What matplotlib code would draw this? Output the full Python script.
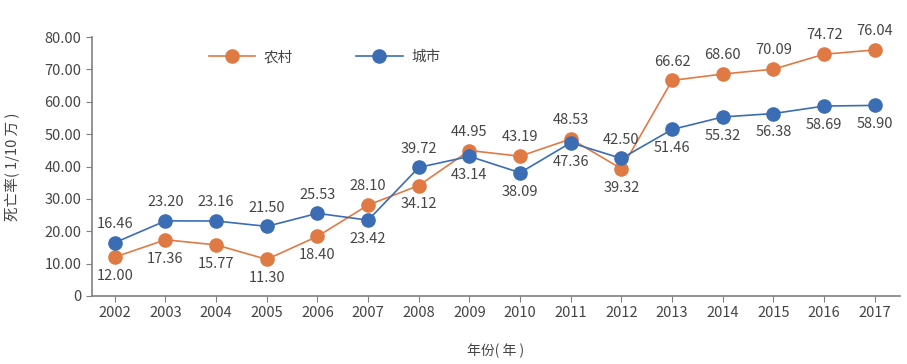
import matplotlib
matplotlib.use("Agg")
import matplotlib.pyplot as plt

plt.rcParams['font.family'] = ['Noto Sans CJK SC', 'DejaVu Sans']

years = [2002, 2003, 2004, 2005, 2006, 2007, 2008, 2009, 2010, 2011, 2012, 2013, 2014, 2015, 2016, 2017]
rural = [12.00, 17.36, 15.77, 11.30, 18.40, 28.10, 34.12, 44.95, 43.19, 48.53, 39.32, 66.62, 68.60, 70.09, 74.72, 76.04]
urban = [16.46, 23.20, 23.16, 21.50, 25.53, 23.42, 39.72, 43.14, 38.09, 47.36, 42.50, 51.46, 55.32, 56.38, 58.69, 58.90]
# label placement for rural: True = above
rural_above = [False, False, False, False, False, True, False, True, True, True, False, True, True, True, True, True]

c_rural = '#E07A45'
c_urban = '#3B6DB4'
tcol = '#454545'

fig = plt.figure(figsize=(9.07, 3.64), dpi=100)
ax = fig.add_axes([0.1014, 0.187, 0.891, 0.711])

ax.plot(years, rural, color=c_rural, lw=1.2, marker='o', ms=9.5, label='农村', zorder=3)
ax.plot(years, urban, color=c_urban, lw=1.2, marker='o', ms=9.5, label='城市', zorder=3)

for x, r, u, ra in zip(years, rural, urban, rural_above):
    off = 8.5
    ax.annotate(f'{r:.2f}', (x, r), xytext=(0, off if ra else -off), textcoords='offset points',
                ha='center', va='bottom' if ra else 'top', fontsize=10.5, color=tcol)
    ax.annotate(f'{u:.2f}', (x, u), xytext=(0, -off if ra else off), textcoords='offset points',
                ha='center', va='top' if ra else 'bottom', fontsize=10.5, color=tcol)

ax.set_xlim(2001.55, 2017.5)
ax.set_ylim(0, 80)
ax.set_xticks(years)
ax.set_xticklabels([str(y) for y in years])
ax.set_yticks(range(0, 81, 10))
ax.set_yticklabels(['0'] + [f'{v:.2f}' for v in range(10, 81, 10)])
for s in ['top', 'right']:
    ax.spines[s].set_visible(False)
for s in ['left', 'bottom']:
    ax.spines[s].set_color('#808080')
    ax.spines[s].set_linewidth(1.2)
ax.tick_params(direction='out', length=4, color='#808080', labelsize=10.5, labelcolor=tcol)
ax.set_xlabel('年份( 年 )', fontsize=10, color=tcol, labelpad=17)
ax.set_ylabel('死亡率( 1/10 万 )', fontsize=10.5, color=tcol, labelpad=18)

leg = ax.legend(loc='upper left', bbox_to_anchor=(0.128, 1.0), ncol=2, frameon=False,
                fontsize=10.5, columnspacing=4.3, handlelength=3.2, handletextpad=0.6)
for t in leg.get_texts():
    t.set_color(tcol)

fig.savefig('out.png', dpi=100)
